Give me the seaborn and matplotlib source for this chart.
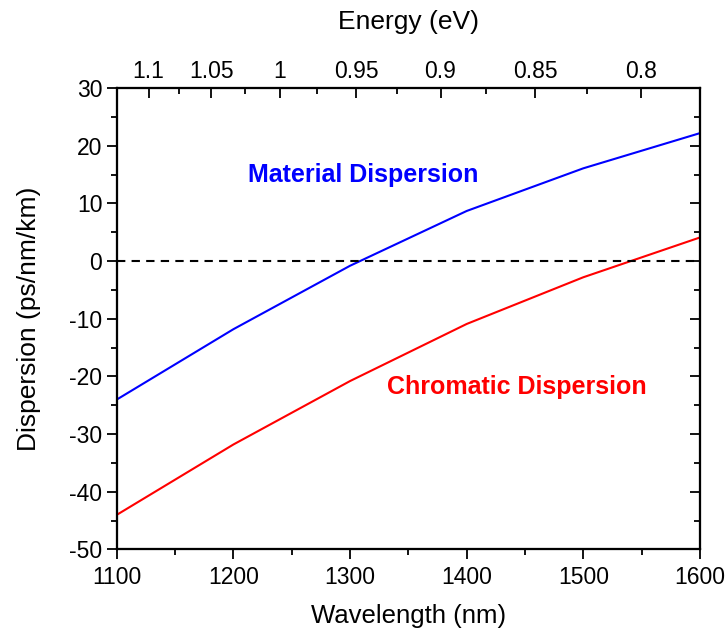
import numpy as np
import pandas as pd
import matplotlib
matplotlib.use("Agg")
import matplotlib.pyplot as plt
import seaborn as sns
from matplotlib.ticker import MultipleLocator, FixedLocator

wavelength = [1100, 1200, 1300, 1400, 1500, 1600]
material = [-24, -11.8, -0.8, 8.7, 16.1, 22.2]
chromatic = [-44, -31.8, -20.8, -10.9, -2.8, 4.1]
energy_major = [1.1, 1.05, 1.0, 0.95, 0.9, 0.85, 0.8]
energy_labels = ["1.1", "1.05", "1", "0.95", "0.9", "0.85", "0.8"]
energy_minor = [1.075, 1.025, 0.975, 0.925, 0.875, 0.825]

sns.set_theme(style="ticks")
plt.rcParams['font.family'] = ['Liberation Sans', 'DejaVu Sans']
plt.rcParams['axes.unicode_minus'] = False
plt.rcParams['text.color'] = 'black'
plt.rcParams['axes.labelcolor'] = 'black'

fig = plt.figure(figsize=(7.26, 6.3), dpi=100)
ax = fig.add_axes([0.161, 0.128, 0.803, 0.732])

df = pd.DataFrame({"Wavelength": wavelength * 2,
                   "Dispersion": material + chromatic,
                   "Type": ["Material"] * 6 + ["Chromatic"] * 6})
sns.lineplot(data=df, x="Wavelength", y="Dispersion", hue="Type",
             palette={"Material": "#0000ff", "Chromatic": "#ff0000"},
             linewidth=1.5, legend=False, ax=ax)
ax.axhline(0, color="black", linestyle=(0, (4, 3)), linewidth=1.5)

ax.set_xlim(1100, 1600)
ax.set_ylim(-50, 30)
ax.xaxis.set_major_locator(MultipleLocator(100))
ax.xaxis.set_minor_locator(MultipleLocator(50))
ax.yaxis.set_major_locator(MultipleLocator(10))
ax.yaxis.set_minor_locator(MultipleLocator(5))
ax.tick_params(which="both", direction="out", width=1.3, colors="black", labelsize=16.5)
ax.tick_params(axis="x", pad=5)
ax.tick_params(which="major", length=7)
ax.tick_params(which="minor", length=4)
for s in ax.spines.values():
    s.set_linewidth(1.5)
    s.set_color("black")
ax.set_xlabel("Wavelength (nm)", fontsize=18.5, labelpad=11, color="black")
ax.set_ylabel("Dispersion (ps/nm/km)", fontsize=19, labelpad=20, color="black")

# right axis inward ticks
axr = ax.twinx()
axr.set_ylim(-50, 30)
axr.yaxis.set_major_locator(MultipleLocator(10))
axr.yaxis.set_minor_locator(MultipleLocator(5))
axr.tick_params(which="both", direction="in", width=1.3, labelright=False, colors="black")
axr.tick_params(which="major", length=7)
axr.tick_params(which="minor", length=4)

# top energy axis
axt = ax.twiny()
axt.set_xlim(1100, 1600)
axt.xaxis.set_major_locator(FixedLocator([1239.84 / e for e in energy_major]))
axt.xaxis.set_minor_locator(FixedLocator([1239.84 / e for e in energy_minor]))
axt.set_xticklabels(energy_labels)
axt.tick_params(which="both", direction="in", width=1.3, labelsize=16.5,
                colors="black", pad=4)
axt.tick_params(which="major", length=7)
axt.tick_params(which="minor", length=4)
axt.set_xlabel("Energy (eV)", fontsize=19, labelpad=22, color="black")
for s in list(axr.spines.values()) + list(axt.spines.values()):
    s.set_linewidth(1.5)
    s.set_color("black")

ax.text(1311, 15.0, "Material Dispersion", color="#0000ff", fontsize=18,
        fontweight="bold", ha="center", va="center")
ax.text(1443, -21.8, "Chromatic Dispersion", color="#ff0000", fontsize=18,
        fontweight="bold", ha="center", va="center")

fig.savefig("out.png", dpi=100)
